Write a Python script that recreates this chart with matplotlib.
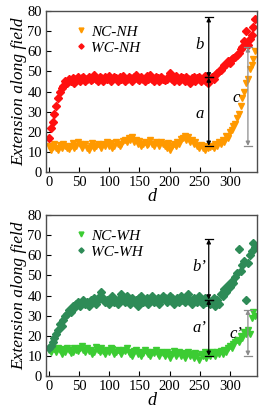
import matplotlib

matplotlib.use("Agg")

import matplotlib.pyplot as plt
import numpy as np

# separation d, sampled every 3 units
d = np.arange(0, 343, 3)

# top panel: no field heterogeneity
nc_nh = [
    13, 11, 12.5, 14, 12, 11, 13.5, 12, 14, 13, 12, 11.5, 13, 14.5, 12, 13, 15, 14, 12, 13.5, 14,
    12, 11, 13, 14.5, 12, 13, 14, 13.5, 12, 14, 13, 15, 13, 14.5, 12, 13, 15, 14, 13,
    14, 15.5, 16, 15, 17, 16, 17.5, 15, 16, 14, 15.5, 13, 14, 15, 13.5, 14, 16, 14, 13, 15,
    14.5, 13, 15, 14, 13, 12, 14.5, 11, 13, 14, 13, 15, 14, 16.5, 17, 18, 16, 17.5, 15, 16,
    14, 15, 13, 12, 13.5, 12, 11, 13, 12, 12.5, 13, 12, 14, 13, 15, 14, 16, 15, 18, 17,
    20, 21, 23, 24, 27, 29, 33, 37, 40, 44, 46, 51, 53, 56, 60,
]
wc_nh = [
    17, 22, 25, 29, 33, 37, 40, 42, 43, 45, 44, 46, 45, 46.5, 44, 46, 47, 45, 46.5, 47, 45,
    46, 47, 45.5, 46, 48, 46, 45, 47, 46.5, 45, 47, 46, 47.5, 45, 46, 47, 46.5, 45, 47,
    46, 47.5, 45, 46, 47, 46.5, 45, 47, 48, 46, 45.5, 47, 46, 45, 47.5, 46, 48, 46, 45, 47,
    46.5, 45, 47, 46, 45.5, 46, 47, 49, 46, 45, 47.5, 46, 45, 47, 46.5, 45, 47, 46, 44, 46.5,
    47, 45, 46.5, 47, 45, 46, 47.5, 45, 44, 46, 47, 46, 48, 49, 50, 50.5, 52, 53, 53.5, 55,
    54, 56, 56.5, 57, 58, 59, 61, 62, 65, 70, 63, 66, 68, 72, 76,
]

# bottom panel: with field heterogeneity
nc_wh = [
    13, 12, 14, 13.5, 12, 14, 13, 11, 13.5, 12, 14, 13, 11.5, 12, 14, 13, 12.5, 14, 15, 13, 12,
    14, 12.5, 13, 11, 12, 14.5, 13, 12, 14, 12.5, 11, 13, 12, 14, 13.5, 11, 12, 13, 12.5,
    11, 13, 12.5, 14, 12, 11, 10, 12.5, 13, 11, 12, 10, 11.5, 13, 12, 11, 10, 12, 11.5, 13,
    11, 10, 12, 11.5, 10, 12, 11, 9, 11, 12.5, 10, 11, 12, 10, 11.5, 9, 11, 12, 10, 11,
    9, 11.5, 10, 8, 11, 10, 12, 9, 11.5, 10, 12, 11, 10, 12, 11, 12.5, 11, 13, 12, 14,
    15, 14, 16, 17, 18, 17, 20, 19, 22, 21, 23, 21, 29, 32, 30,
]
wc_wh = [
    14, 15, 17, 19, 21, 23, 26, 25, 28, 30, 31, 33, 32, 35, 34, 36, 37, 35, 37, 38, 36,
    37, 35, 38, 37, 39, 36, 38, 40, 42, 39, 37, 38, 36, 39, 40, 37, 38, 36, 39,
    41, 38, 37, 40, 38, 36, 39, 37, 38, 35, 39, 40, 37, 38, 39, 36, 38, 40, 37, 38,
    39, 36, 38, 40, 39, 37, 38, 40, 39, 36, 38, 39, 37, 40, 38, 37, 39, 41, 38, 36,
    39, 38, 37, 40, 38, 36, 39, 37, 38, 36, 37, 39, 35, 38, 36, 41, 40, 43, 42, 45,
    44, 47, 46, 49, 51, 63, 52, 55, 57, 38, 56, 60, 62, 66, 64,
]

# double arrows: (x, y_low, y_high, colour) and their labels
top_arrows = [(265, 13, 47, "black"), (265, 47, 77, "black"), (330, 13, 62, "0.55")]
top_labels = [(250, 29, "a"), (250, 63, "b"), (310, 37, "c")]
bot_arrows = [(265, 10, 38, "black"), (265, 38, 68, "black"), (330, 10, 33, "0.55")]
bot_labels = [(250, 24, "a\u2019"), (250, 54, "b\u2019"), (310, 21, "c\u2019")]

ORANGE = "#ff9900"
RED = "#ff1010"
LIGHT_GREEN = "#3ccc33"
DARK_GREEN = "#2e8b57"

plt.rcParams["font.family"] = ["Liberation Serif", "DejaVu Serif"]


def draw_arrow(ax, x, y0, y1, color):
    ax.annotate(
        "",
        xy=(x, y1),
        xytext=(x, y0),
        arrowprops=dict(
            arrowstyle="<|-|>",
            color=color,
            lw=0.9,
            shrinkA=0,
            shrinkB=0,
            mutation_scale=6,
        ),
    )
    for y in (y0, y1):
        ax.plot([x - 7, x + 7], [y, y], color=color, lw=0.9)


def style_panel(ax, nc, wc, nc_label, wc_label, nc_color, wc_color, arrows, labels):
    ax.plot(d, nc, linestyle="none", marker="v", markersize=5.0,
            color=nc_color, label=nc_label)
    ax.plot(d, wc, linestyle="none", marker="D", markersize=3.8,
            color=wc_color, label=wc_label)
    for x, y0, y1, color in arrows:
        draw_arrow(ax, x, y0, y1, color)
    for x, y, text in labels:
        ax.text(x, y, text, fontsize=12, style="italic", ha="center", va="center")
    ax.set_xlim(-5, 345)
    ax.set_ylim(0, 80)
    ax.set_xticks([0, 50, 100, 150, 200, 250, 300])
    ax.set_yticks(np.arange(0, 81, 10))
    ax.tick_params(direction="in", length=3.5, width=0.8, labelsize=10.5, pad=3,
                   top=False, right=False)
    for spine in ax.spines.values():
        spine.set_color("0.3")
        spine.set_linewidth(1.0)
    ax.set_xlabel("d", fontsize=13, style="italic", labelpad=-1)
    ax.set_ylabel("Extension along field", fontsize=12.5, style="italic", labelpad=0)
    ax.legend(loc="upper left", bbox_to_anchor=(0.07, 0.99), frameon=False,
              prop={"style": "italic", "size": 11},
              handletextpad=0.2, handlelength=1.0, borderpad=0.3,
              labelspacing=0.15, markerscale=0.7)


fig = plt.figure(figsize=(2.66, 4.18), dpi=100)
ax_top = fig.add_axes([0.173, 0.5885, 0.793, 0.385])
ax_bot = fig.add_axes([0.173, 0.1005, 0.793, 0.385])

style_panel(ax_top, nc_nh, wc_nh, "NC-NH", "WC-NH", ORANGE, RED,
            top_arrows, top_labels)
style_panel(ax_bot, nc_wh, wc_wh, "NC-WH", "WC-WH", LIGHT_GREEN, DARK_GREEN,
            bot_arrows, bot_labels)

fig.savefig("out.png", dpi=100)
plt.close(fig)
